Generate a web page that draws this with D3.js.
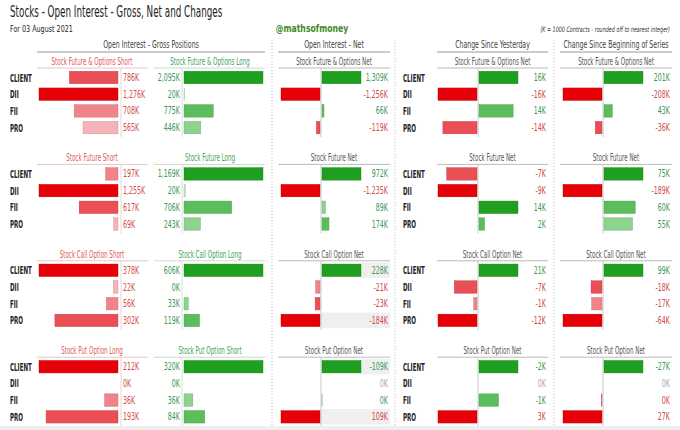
<!DOCTYPE html>
<html>
<head>
<meta charset="utf-8">
<script src="https://cdn.jsdelivr.net/npm/d3@7"></script>
<style>
body { margin: 0; background: #fff; }
text { font-family: "Liberation Sans Narrow", "DejaVu Sans Condensed", "Roboto Condensed", sans-serif; }
</style>
</head>
<body>
<svg id="chart" width="680" height="430"></svg>
<script>
// ---- data (K contracts) ----
const parties = ["CLIENT", "DII", "FII", "PRO"]

const shortTitles = ["Stock Future & Options Short", "Stock Future Short", "Stock Call Option Short", "Stock Put Option Long"]
const longTitles = ["Stock Future & Options Long", "Stock Future Long", "Stock Call Option Long", "Stock Put Option Short"]
const netTitles = ["Stock Future & Options Net", "Stock Future Net", "Stock Call Option Net", "Stock Put Option Net"]

// rows follow parties order
const grossShort = [[786, 1276, 708, 565], [197, 1255, 617, 69], [378, 22, 56, 302], [212, 0, 36, 193]]
const grossLong = [[2095, 20, 775, 446], [1169, 20, 706, 243], [606, 0, 33, 119], [320, 0, 36, 84]]
const oiNet = [[1309, -1256, 66, -119], [972, -1235, 89, 174], [228, -21, -23, -184], [-109, 0, -0.3, 109]]
const chgYesterday = [[16, -16, 14, -14], [-7, -9, 14, 2], [21, -7, -1, -12], [-2, 0, -1, 3]]
const chgSeries = [[201, -208, 43, -36], [75, -189, 60, 55], [99, -18, -17, -64], [-27, 0, 0.4, 27]]
// put option net is bullish when negative, so its bars are flipped
const flipBlock = [false, false, false, true]
// rows greyed in the OI net panel (block index -> parties)
const shadedRows = { 2: ["CLIENT", "PRO"], 3: ["CLIENT", "PRO"] }

const reds = ["#e60008", "#ea4f55", "#f08488", "#f5b2b7"]
const greens = ["#1f9f1f", "#5cbd5c", "#8dd38d", "#bfe5bf"]
const redText = "#cf4a4a", greenText = "#3a9655"

const fmt = d3.formatLocale({ decimal: ".", thousands: ",", grouping: [3], currency: ["", ""], minus: "-" }).format(",.0f")
const kfmt = v => fmt(Math.round(v) || 0) + "K"

const svg = d3.select("#chart")

// text squeezed horizontally to mimic the condensed font
const txt = (parent, x, y, s, o = {}) => parent.append("text")
    .attr("transform", `translate(${x},${y}) scale(${o.sx || 0.66},1)`)
    .attr("text-anchor", o.anchor || "start")
    .attr("font-size", o.size || 10)
    .attr("font-weight", o.weight || "normal")
    .attr("font-style", o.style || "normal")
    .attr("fill", o.color || "#333")
    .text(s)

// rank colour among values with the same sign
const rankColor = (vals, i) => {
    const v = vals[i]
    const same = vals.filter(d => Math.sign(d) == Math.sign(v) && d != 0)
        .map(Math.abs).sort((a, b) => b - a)
    const r = same.indexOf(Math.abs(v))
    return (v < 0 ? reds : greens)[Math.max(r, 0)]
}
const darker = c => d3.color(c).darker(0.6)

// ---- header ----
txt(svg, 10, 17, "Stocks - Open Interest - Gross, Net and Changes", { size: 15.5, color: "#222", sx: 0.63 })
txt(svg, 10, 32, "For 03 August 2021", { size: 9.5, color: "#222", sx: 0.75 })
txt(svg, 312, 32, "@mathsofmoney", { size: 10.5, weight: "bold", color: "#3f8a2a", anchor: "middle", sx: 0.82 })
txt(svg, 670, 32, "(K = 1000 Contracts - rounded off to nearest integer)", { size: 7.5, style: "italic", color: "#333", anchor: "end", sx: 0.72 })

const groups = [
    { label: "Open Interest - Gross Positions", x0: 37, x1: 265 },
    { label: "Open Interest - Net", x0: 278, x1: 390 },
    { label: "Change Since Yesterday", x0: 437, x1: 548 },
    { label: "Change Since Beginning of Series", x0: 560, x1: 672 },
]
groups.forEach(gr => {
    txt(svg, (gr.x0 + gr.x1) / 2, 48, gr.label, { size: 10.5, color: "#444", anchor: "middle", sx: 0.66 })
    svg.append("line").attr("x1", gr.x0).attr("x2", gr.x1).attr("y1", 52).attr("y2", 52)
        .attr("stroke", "#999").attr("stroke-width", 1)
})

// dotted separators
;[272, 395, 554].forEach(x => {
    svg.append("line").attr("x1", x).attr("x2", x).attr("y1", 40).attr("y2", 430)
        .attr("stroke", "#aaa").attr("stroke-width", 0.8).attr("stroke-dasharray", "1,2")
})

const barH = 12.5
const subSx = 0.62, valSx = 0.7, rowSx = 0.56

// ---- blocks ----
for (let b = 0; b < 4; b++) {
    const hy = 62 + b * 96.4
    const y = d3.scalePoint().domain(parties).range([hy + 15.5, hy + 65.6])
    const g = svg.append("g")

    // row labels
    parties.forEach(p => {
        txt(g, 10, y(p) + 4, p, { size: 11, weight: "bold", color: "#222", sx: rowSx })
        txt(g, 403, y(p) + 4, p, { size: 11, weight: "bold", color: "#222", sx: rowSx })
    })

    // gross short (bars grow leftwards)
    const xs = d3.scaleLinear().domain([0, d3.max(grossShort[b])]).range([118, 39])
    const shortRank = d => reds[grossShort[b].slice().sort((a, c) => c - a).indexOf(d)]
    txt(g, 92, hy + 3, shortTitles[b], { size: 10, color: "#dd5b5b", anchor: "middle", sx: subSx })
    g.append("line").attr("x1", 37).attr("x2", 148).attr("y1", hy + 6).attr("y2", hy + 6).attr("stroke", "#e8c6c6")
    g.append("line").attr("x1", 121).attr("x2", 121).attr("y1", hy + 6).attr("y2", hy + 75).attr("stroke", "#ecd2d2")
    g.selectAll(".bs").data(grossShort[b]).join("rect")
        .attr("x", d => xs(d)).attr("width", d => xs(0) - xs(d))
        .attr("y", (d, i) => y(parties[i]) - barH / 2).attr("height", barH)
        .attr("fill", shortRank)
        .attr("stroke", d => darker(shortRank(d)))
        .attr("stroke-width", d => d > 0 ? 0.4 : 0)
    grossShort[b].forEach((d, i) => txt(g, 123, y(parties[i]) + 3.5, kfmt(d), { color: redText, sx: valSx }))

    // gross long
    const xl = d3.scaleLinear().domain([0, d3.max(grossLong[b])]).range([184, 263])
    const longRank = d => greens[grossLong[b].slice().sort((a, c) => c - a).indexOf(d)]
    txt(g, 210, hy + 3, longTitles[b], { size: 10, color: "#3fa25e", anchor: "middle", sx: subSx })
    g.append("line").attr("x1", 154).attr("x2", 265).attr("y1", hy + 6).attr("y2", hy + 6).attr("stroke", "#c9dcc9")
    g.append("line").attr("x1", 182).attr("x2", 182).attr("y1", hy + 6).attr("y2", hy + 75).attr("stroke", "#d2e2d2")
    g.selectAll(".bl").data(grossLong[b]).join("rect")
        .attr("x", xl(0)).attr("width", d => xl(d) - xl(0))
        .attr("y", (d, i) => y(parties[i]) - barH / 2).attr("height", barH)
        .attr("fill", longRank)
        .attr("stroke", d => darker(longRank(d)))
        .attr("stroke-width", d => d > 0 ? 0.4 : 0)
    grossLong[b].forEach((d, i) => txt(g, 180, y(parties[i]) + 3.5, kfmt(d), { color: greenText, anchor: "end", sx: valSx }))

    // net panels
    const nets = [
        { vals: oiNet[b], c: 321, lx: 388, x0: 278, x1: 390, shade: true },
        { vals: chgYesterday[b], c: 478, lx: 546, x0: 437, x1: 548 },
        { vals: chgSeries[b], c: 603, lx: 670, x0: 560, x1: 672 },
    ]
    nets.forEach(n => {
        const dir = n.vals.map(v => flipBlock[b] ? -v : v)
        const pos = d3.scaleLinear().domain([0, d3.max(dir, d => Math.max(d, 0)) || 1]).range([n.c + 1, n.c + 40])
        const neg = d3.scaleLinear().domain([0, d3.max(dir, d => Math.max(-d, 0)) || 1]).range([n.c - 1, n.c - 40])
        const xEnd = d => d >= 0 ? pos(d) : neg(-d)

        if (n.shade && shadedRows[b]) {
            shadedRows[b].forEach(p => {
                const i = parties.indexOf(p)
                const s = Math.max(xEnd(dir[i]), n.c)
                g.append("rect").attr("x", s).attr("width", n.x1 - s)
                    .attr("y", y(p) - barH / 2 - 1.5).attr("height", barH + 3).attr("fill", "#efefef")
            })
        }

        txt(g, (n.x0 + n.x1) / 2, hy + 3, netTitles[b], { size: 10, color: "#555", anchor: "middle", sx: subSx })
        g.append("line").attr("x1", n.x0).attr("x2", n.x1).attr("y1", hy + 6).attr("y2", hy + 6).attr("stroke", "#bbb")
        g.append("line").attr("x1", n.c).attr("x2", n.c).attr("y1", hy + 6).attr("y2", hy + 75).attr("stroke", "#c8c8c8")

        g.selectAll(null).data(dir).join("rect")
            .attr("x", d => d >= 0 ? pos(0) : neg(-d))
            .attr("width", d => Math.abs(xEnd(d) - (d >= 0 ? pos(0) : neg(0))))
            .attr("y", (d, i) => y(parties[i]) - barH / 2).attr("height", barH)
            .attr("fill", (d, i) => rankColor(dir, i))
            .attr("stroke", (d, i) => darker(rankColor(dir, i)))
            .attr("stroke-width", d => d != 0 ? 0.4 : 0)

        n.vals.forEach((v, i) => {
            const col = v == 0 ? "#aaa" : (dir[i] < 0 ? redText : greenText)
            txt(g, n.lx, y(parties[i]) + 3.5, kfmt(v), { color: col, anchor: "end", sx: valSx })
        })
    })
}

svg.append("rect").attr("x", 0).attr("y", 426).attr("width", 680).attr("height", 4).attr("fill", "#eeeeee")
</script>
</body>
</html>
